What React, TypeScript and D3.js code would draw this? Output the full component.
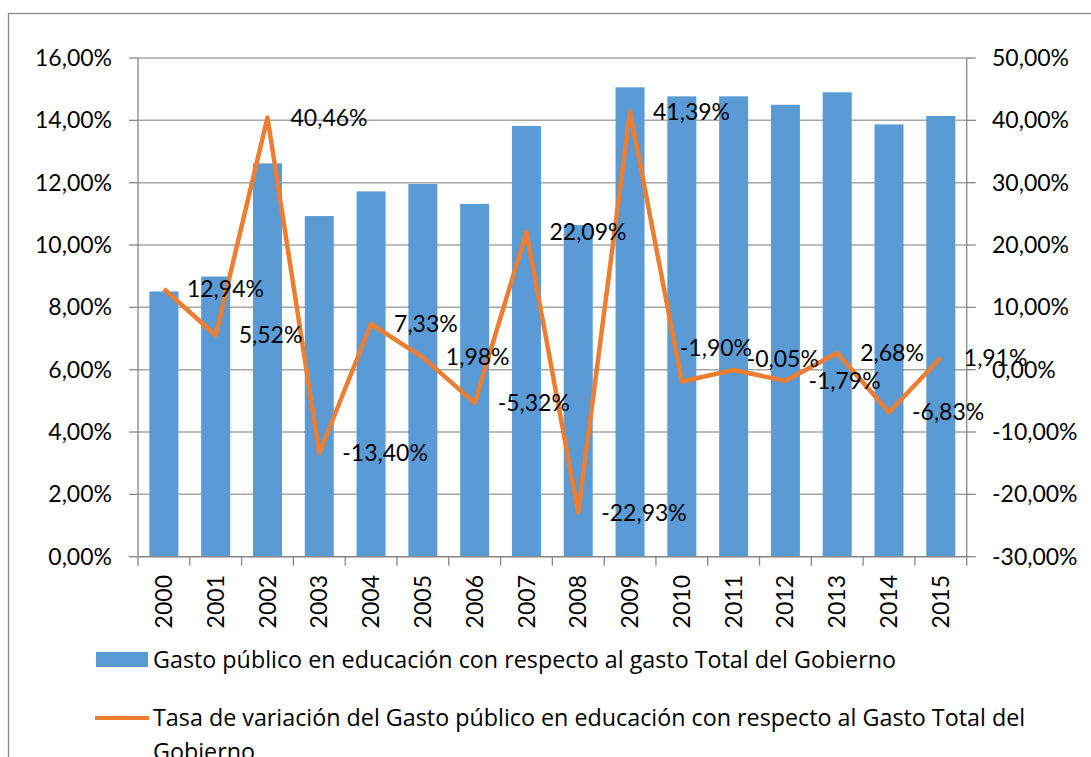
import React from 'react';
import { scaleLinear, scaleBand, line } from 'd3';

const years = ['2000', '2001', '2002', '2003', '2004', '2005', '2006', '2007',
    '2008', '2009', '2010', '2011', '2012', '2013', '2014', '2015'];

// % of total government spending (left axis)
const gastoEducacion = [8.51, 8.99, 12.62, 10.93, 11.72, 11.96, 11.32, 13.82,
    10.64, 15.06, 14.77, 14.77, 14.50, 14.90, 13.87, 14.14];

// rate of change (right axis)
const tasaVariacion = [12.94, 5.52, 40.46, -13.40, 7.33, 1.98, -5.32, 22.09,
    -22.93, 41.39, -1.90, -0.05, -1.79, 2.68, -6.83, 1.91];

const leftTicks = [0, 2, 4, 6, 8, 10, 12, 14, 16];
const rightTicks = [-30, -20, -10, 0, 10, 20, 30, 40, 50];

const barLegend = 'Gasto público en educación con respecto al gasto Total del Gobierno';
const lineLegend = ['Tasa de variación del Gasto público en educación con respecto al Gasto Total del', 'Gobierno'];

const fmt = (v: number) => v.toFixed(2).replace('.', ',') + '%';

// a couple of labels were dragged by hand in the original
const labelNudge: Record<number, [number, number]> = {
    10: [-2, -34],
    11: [13, -11],
};

const App = () => {
    const width = 1091;
    const height = 757;
    const left = 138, right = 966.7, top = 58, bottom = 556.7;
    const font = 'Lato, "Open Sans", sans-serif';
    const legendFont = '"Open Sans", Lato, sans-serif';
    const fs = 23;

    const xScale = scaleBand()
        .domain(years)
        .range([left, right])
        .paddingInner(0.44)
        .paddingOuter(0.22);

    const yLeft = scaleLinear().domain([0, 16]).range([bottom, top]);
    const yRight = scaleLinear().domain([-30, 50]).range([bottom, top]);

    const cx = (y: string) => xScale(y)! + xScale.bandwidth() / 2;
    const step = xScale.step();

    const linePath = line<number>()
        .x((d, i) => cx(years[i]))
        .y(d => yRight(d))(tasaVariacion);

    return <svg width={width} height={height} viewBox={`0 0 ${width} ${height}`}
        style={{ position: 'absolute', left: 0, top: 0, background: '#fff' }}
        fontFamily={font}>
        <rect x={8.5} y={13.5} width={1200} height={900} fill="#fff" stroke="#898989" strokeWidth={1.3} />

        {leftTicks.map(t => (
            <line key={'g' + t} x1={left} x2={right} y1={yLeft(t)} y2={yLeft(t)} stroke="#a6a6a6" strokeWidth={1.5} />
        ))}

        {gastoEducacion.map((v, i) => (
            <rect key={years[i]} x={xScale(years[i])} y={yLeft(v)} width={xScale.bandwidth()}
                height={bottom - yLeft(v)} fill="#5b9bd5" />
        ))}

        {/* axes */}
        <line x1={left} x2={left} y1={top} y2={bottom} stroke="#868686" strokeWidth={1.3} />
        <line x1={right} x2={right} y1={top} y2={bottom} stroke="#868686" strokeWidth={1.3} />
        <line x1={left} x2={right} y1={bottom} y2={bottom} stroke="#868686" strokeWidth={1.3} />
        {leftTicks.map(t => (
            <g key={'l' + t}>
                <line x1={left - 9} x2={left} y1={yLeft(t)} y2={yLeft(t)} stroke="#868686" strokeWidth={1.3} />
                <text x={112} y={yLeft(t)} dy="0.35em" textAnchor="end" fontSize={fs} fill="#000">{fmt(t)}</text>
            </g>
        ))}
        {rightTicks.map(t => (
            <g key={'r' + t}>
                <line x1={right} x2={right + 9} y1={yRight(t)} y2={yRight(t)} stroke="#868686" strokeWidth={1.3} />
                <text x={992} y={yRight(t)} dy="0.35em" textAnchor="start" fontSize={fs} fill="#000">{fmt(t)}</text>
            </g>
        ))}
        {years.map((y, i) => (
            <line key={'xt' + y} x1={left + i * step} x2={left + i * step} y1={bottom} y2={bottom + 9}
                stroke="#868686" strokeWidth={1.3} />
        ))}
        <line x1={right} x2={right} y1={bottom} y2={bottom + 9} stroke="#868686" strokeWidth={1.3} />
        {years.map(y => (
            <text key={'xl' + y} transform={`translate(${cx(y)},575) rotate(-90)`} dy="0.35em"
                textAnchor="end" fontSize={fs} fill="#000">{y}</text>
        ))}

        <path d={linePath!} fill="none" stroke="#ed7d31" strokeWidth={4.5} strokeLinejoin="round" />

        {tasaVariacion.map((v, i) => {
            const [nx, ny] = labelNudge[i] || [23, 0];
            return <text key={'dl' + i} x={cx(years[i]) + nx} y={yRight(v) + ny} dy="0.35em"
                fontSize={fs} fill="#000">{fmt(v)}</text>
        })}

        {/* legend */}
        <g fontFamily={legendFont} fontSize={23.3}>
            <rect x={96} y={652} width={52} height={15} fill="#5b9bd5" />
            <text x={153} y={668} fill="#000">{barLegend}</text>
            <line x1={95} x2={149} y1={718} y2={718} stroke="#ed7d31" strokeWidth={4} />
            <text x={153} y={726} fill="#000">{lineLegend[0]}</text>
            <text x={153} y={760} fill="#000">{lineLegend[1]}</text>
        </g>
    </svg>
}

export default App;
